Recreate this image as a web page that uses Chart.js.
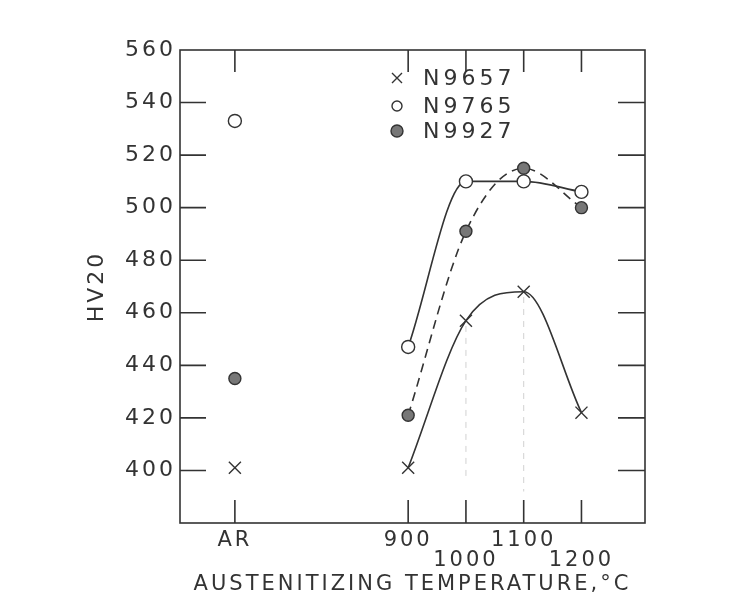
<!DOCTYPE html>
<html>
<head>
<meta charset="utf-8">
<script src="https://cdn.jsdelivr.net/npm/chart.js@4.4.0/dist/chart.umd.min.js"></script>
<style>
  html, body { margin: 0; padding: 0; background: #fff; }
</style>
</head>
<body>
<canvas id="hv-chart" width="737" height="602"></canvas>
<script>
const tempLabels = ['AR', '900', '1000', '1100', '1200'];
const tempValues = [600, 900, 1000, 1100, 1200]; // AR sits at 600 on the axis
const labelRow = [0, 0, 1, 0, 1]; // 1000 and 1200 go on the second line
const seriesNames = ['N9657', 'N9765', 'N9927'];
const n9657 = [401, 401, 457, 468, 422];
const n9765 = [533, 447, 510, 510, 506];
const n9927 = [435, 421, 491, 515, 500];
const hvTicks = [400, 420, 440, 460, 480, 500, 520, 540, 560];
// faint pencil guides under the 1000 and 1100 points
const guide1000 = [455, 397];
const guide1100 = [466, 392];

const ink = '#333';
const font = 'DejaVu Sans';

function curve(vals) {
  return tempValues.slice(1).map((t, i) => ({x: t, y: vals[i + 1]}));
}
function arPoint(vals) {
  return [{x: tempValues[0], y: vals[0]}];
}

const styles = [
  {pointStyle: 'crossRot', radius: 8.5, bg: ink, dash: []},
  {pointStyle: 'circle', radius: 6.5, bg: '#fff', dash: []},
  {pointStyle: 'circle', radius: 6, bg: '#777', dash: [9, 6]}
];
const allSeries = [n9657, n9765, n9927];

const datasets = [];
allSeries.forEach((vals, i) => {
  const s = styles[i];
  datasets.push({
    label: seriesNames[i],
    data: curve(vals),
    showLine: true,
    borderColor: ink,
    borderWidth: 1.6,
    borderDash: s.dash,
    cubicInterpolationMode: 'monotone',
    pointStyle: s.pointStyle,
    pointRadius: s.radius,
    pointBackgroundColor: s.bg,
    pointBorderColor: ink,
    pointBorderWidth: 1.4
  });
  datasets.push({
    label: seriesNames[i] + ' AR',
    data: arPoint(vals),
    showLine: false,
    pointStyle: s.pointStyle,
    pointRadius: s.radius,
    pointBackgroundColor: s.bg,
    pointBorderColor: ink,
    pointBorderWidth: 1.4
  });
});
datasets.push({
  label: 'guide 1000',
  data: guide1000.map(v => ({x: 1000, y: v})),
  showLine: true, borderColor: 'rgba(0,0,0,0.18)', borderWidth: 1, borderDash: [6, 6], pointRadius: 0
});
datasets.push({
  label: 'guide 1100',
  data: guide1100.map(v => ({x: 1100, y: v})),
  showLine: true, borderColor: 'rgba(0,0,0,0.18)', borderWidth: 1, borderDash: [6, 6], pointRadius: 0
});

const frameAndLegend = {
  id: 'frameAndLegend',
  beforeLayout(chart) { chart.ctx.letterSpacing = '3px'; },
  beforeDraw(chart) { chart.ctx.letterSpacing = '3px'; },
  afterDraw(chart) {
    const {ctx, chartArea: a, scales: {x, y}} = chart;
    ctx.save();
    ctx.strokeStyle = ink;
    ctx.lineWidth = 1.6;
    ctx.strokeRect(a.left, a.top, a.right - a.left, a.bottom - a.top);
    // inward tick marks on all four sides
    ctx.beginPath();
    hvTicks.forEach(v => {
      const py = y.getPixelForValue(v);
      if (py <= a.top + 1) return;
      ctx.moveTo(a.left, py); ctx.lineTo(a.left + 26, py);
      ctx.moveTo(a.right, py); ctx.lineTo(a.right - 27, py);
    });
    tempValues.forEach(v => {
      const px = x.getPixelForValue(v);
      ctx.moveTo(px, a.bottom); ctx.lineTo(px, a.bottom - 23);
      ctx.moveTo(px, a.top); ctx.lineTo(px, a.top + 22);
    });
    ctx.stroke();

    // legend in the upper part of the plot
    const lx = 397, tx = 423, rows = [78, 106, 131];
    ctx.letterSpacing = '4px';
    ctx.font = '22px "' + font + '"';
    ctx.fillStyle = ink;
    ctx.textBaseline = 'middle';
    ctx.textAlign = 'left';
    ctx.lineWidth = 1.4;
    seriesNames.forEach((name, i) => {
      const ry = rows[i];
      ctx.beginPath();
      if (i === 0) {
        ctx.moveTo(lx - 5, ry - 5); ctx.lineTo(lx + 5, ry + 5);
        ctx.moveTo(lx + 5, ry - 5); ctx.lineTo(lx - 5, ry + 5);
        ctx.stroke();
      } else {
        ctx.arc(lx, ry, i === 1 ? 5 : 6, 0, Math.PI * 2);
        ctx.fillStyle = styles[i].bg;
        ctx.fill();
        ctx.stroke();
      }
      ctx.fillStyle = ink;
      ctx.fillText(name, tx, ry + 1);
    });
    ctx.restore();
  }
};

const ctx = document.getElementById('hv-chart').getContext('2d');
new Chart(ctx, {
  type: 'scatter',
  data: {datasets: datasets},
  options: {
    responsive: false,
    animation: false,
    layout: {padding: {left: 85, right: 92, top: 50, bottom: 0}},
    plugins: {legend: {display: false}, tooltip: {enabled: false}},
    elements: {line: {fill: false}},
    scales: {
      x: {
        type: 'linear',
        min: 505,
        max: 1310,
        grid: {display: false, drawTicks: false},
        border: {display: false},
        afterBuildTicks: scale => { scale.ticks = tempValues.map(v => ({value: v})); },
        afterFit: scale => { scale.height = 79; },
        ticks: {
          color: ink,
          padding: 8,
          maxRotation: 0,
          autoSkip: false,
          font: {family: font, size: 21, lineHeight: 0.95},
          callback: value => {
            const i = tempValues.indexOf(value);
            return labelRow[i] ? ['', tempLabels[i]] : tempLabels[i];
          }
        },
        title: {
          display: true,
          text: 'AUSTENITIZING TEMPERATURE,°C',
          color: ink,
          padding: {top: 0, bottom: 5.5},
          font: {family: font, size: 21, lineHeight: 1.1}
        }
      },
      y: {
        min: 380,
        max: 560,
        grid: {display: false, drawTicks: false},
        border: {display: false},
        afterBuildTicks: scale => { scale.ticks = hvTicks.map(v => ({value: v})); },
        afterFit: scale => { scale.width = 95; },
        ticks: {
          color: ink,
          padding: 4,
          font: {family: font, size: 22}
        },
        title: {
          display: true,
          text: 'HV20',
          color: ink,
          padding: 0,
          font: {family: font, size: 22, lineHeight: 1.1}
        }
      }
    }
  },
  plugins: [frameAndLegend]
});
</script>
</body>
</html>
